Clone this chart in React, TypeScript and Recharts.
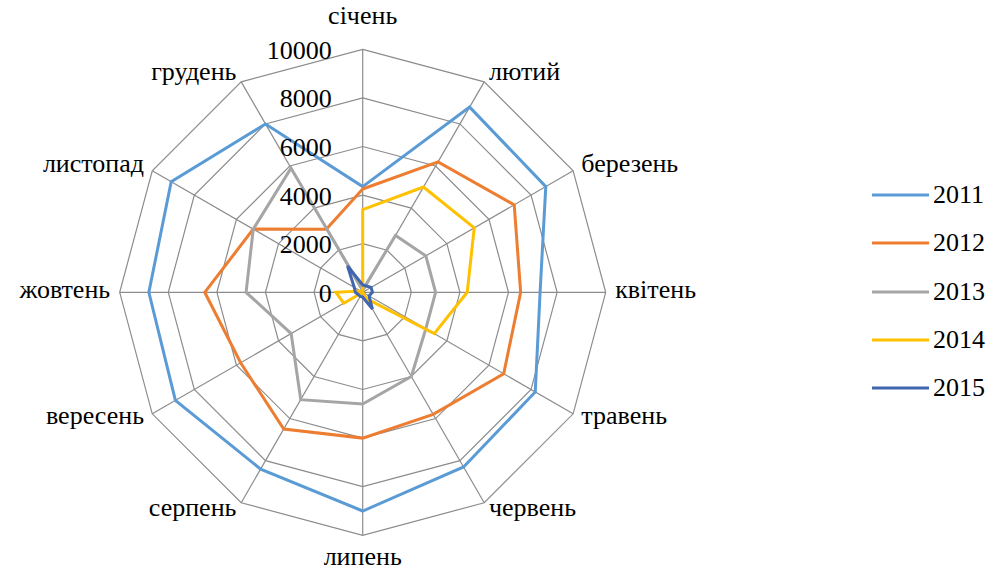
import React from 'react';
import {
  Legend,
  PolarAngleAxis,
  PolarGrid,
  PolarRadiusAxis,
  Radar,
  RadarChart,
} from 'recharts';

const months = [
  'січень', 'лютий', 'березень', 'квітень', 'травень', 'червень',
  'липень', 'серпень', 'вересень', 'жовтень', 'листопад', 'грудень',
];

const y2011 = [4350, 8800, 8700, 7300, 8200, 8300, 9000, 8400, 8900, 8800, 9100, 8000];
const y2012 = [4250, 6200, 7200, 6500, 6700, 5800, 6000, 6500, 5800, 6500, 5200, 3000];
const y2013 = [100, 2700, 3000, 3000, 3000, 4000, 4600, 5100, 3400, 4800, 5200, 5900];
const y2014 = [3400, 5000, 5300, 4300, 3400, 300, 0, 0, 900, 1100, 100, 0];
const y2015 = [300, 300, 400, 400, 300, 800, 200, 200, 200, 300, 400, 1250];

const radiusTicks = [0, 2000, 4000, 6000, 8000, 10000];

const series = [
  { key: 'y2011', name: '2011', color: '#5B9BD5' },
  { key: 'y2012', name: '2012', color: '#ED7D31' },
  { key: 'y2013', name: '2013', color: '#A5A5A5' },
  { key: 'y2014', name: '2014', color: '#FFC000' },
  { key: 'y2015', name: '2015', color: '#4066B0' },
];

const data = months.map((m, i) => ({
  month: m,
  y2011: y2011[i],
  y2012: y2012[i],
  y2013: y2013[i],
  y2014: y2014[i],
  y2015: y2015[i],
}));

const FONT = 'Liberation Serif, DejaVu Serif, Times New Roman, serif';
const CX = 362.7;
const CY = 292.3;
const R = 243;

function MonthTick(props: any) {
  const { x, y, payload } = props;
  const a = Math.atan2(CY - y, x - CX);
  const cos = Math.cos(a);
  const sin = Math.sin(a);
  const vx = CX + R * cos;
  const vy = CY - R * sin;
  let anchor: 'start' | 'middle' | 'end' = 'middle';
  if (cos > 0.01) anchor = 'start';
  else if (cos < -0.01) anchor = 'end';
  const tx = vx + 9.5 * cos;
  // top and bottom labels sit further out than the side ones
  let ty = vy - sin * 9;
  if (sin > 0.99) ty = vy - 31;
  else if (sin < -0.99) ty = vy + 24;
  return (
    <text x={tx} y={ty} dy="0.22em" textAnchor={anchor} style={{ fontFamily: FONT }} fontSize={26} fill="#000">
      {payload.value}
    </text>
  );
}

function ValueTick(props: any) {
  const { x, y, payload } = props;
  return (
    <text x={x - 31} y={y + 1} dy="0.33em" textAnchor="end" style={{ fontFamily: FONT }} fontSize={26} fill="#000">
      {payload.value}
    </text>
  );
}

function YearLegend() {
  return (
    <div style={{ fontFamily: FONT, fontSize: 26, color: '#000' }}>
      {series.map((s) => (
        <div key={s.key} style={{ height: 48.3, display: 'flex', alignItems: 'center' }}>
          <svg width={57} height={6} style={{ display: 'block' }}>
            <line x1={0} y1={3} x2={57} y2={3} stroke={s.color} strokeWidth={3} />
          </svg>
          <span style={{ marginLeft: 4, lineHeight: '26px' }}>{s.name}</span>
        </div>
      ))}
    </div>
  );
}

export default function App() {
  return (
    <div style={{ position: 'absolute', left: 0, top: 0, background: '#fff' }}>
      <RadarChart
        width={993}
        height={572}
        data={data}
        cx={CX}
        cy={CY}
        outerRadius={R}
        startAngle={90}
        endAngle={-270}
        margin={{ top: 0, right: 0, bottom: 0, left: 0 }}
      >
        <PolarGrid gridType="polygon" stroke="#8c8c8c" strokeWidth={1.2} />
        <PolarAngleAxis dataKey="month" tick={MonthTick} tickLine={false} axisLine={false} />
        <PolarRadiusAxis
          angle={90}
          domain={[0, 10000]}
          ticks={radiusTicks}
          tick={ValueTick}
          axisLine={false}
          tickLine={false}
        />
        {series.map((s) => (
          <Radar
            key={s.key}
            dataKey={s.key}
            name={s.name}
            stroke={s.color}
            strokeWidth={3}
            fill="none"
            fillOpacity={0}
            dot={false}
            isAnimationActive={false}
          />
        ))}
        <Legend
          layout="vertical"
          align="right"
          verticalAlign="middle"
          content={YearLegend}
          wrapperStyle={{ left: 872, top: 171, width: 120 }}
        />
      </RadarChart>
    </div>
  );
}
